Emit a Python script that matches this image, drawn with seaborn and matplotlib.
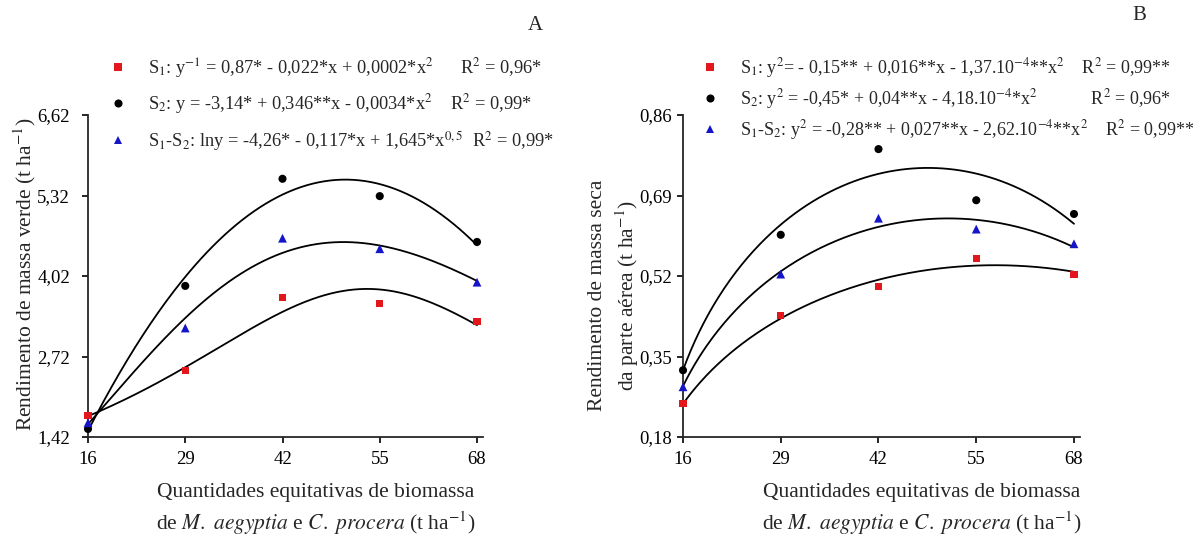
import numpy as np
import pandas as pd
import matplotlib
matplotlib.use("Agg")
import matplotlib.pyplot as plt
import seaborn as sns
from matplotlib.lines import Line2D

# ---------------- data ----------------
doses = [16, 29, 42, 55, 68]
xticks = [16, 29, 42, 55, 68]

a_s1 = [1.76, 2.49, 3.68, 3.58, 3.28]
a_s2 = [1.55, 3.86, 5.59, 5.31, 4.57]
a_s12 = [1.65, 3.18, 4.63, 4.46, 3.92]
a_yticks = [1.42, 2.72, 4.02, 5.32, 6.62]
a_yticklabels = ["1,42", "2,72", "4,02", "5,32", "6,62"]

b_s1 = [0.250, 0.436, 0.497, 0.556, 0.524]
b_s2 = [0.321, 0.607, 0.788, 0.680, 0.651]
b_s12 = [0.286, 0.524, 0.642, 0.619, 0.588]
b_yticks = [0.18, 0.35, 0.52, 0.69, 0.86]
b_yticklabels = ["0,18", "0,35", "0,52", "0,69", "0,86"]

series = ["S1", "S2", "S1-S2"]

a_labels = [
    r"S$_1$: y$^{\mathrm{-1}}$ = 0,87* - 0,022*x + 0,0002*x$^2$      R$^2$ = 0,96*",
    r"S$_2$: y = -3,14* + 0,346**x - 0,0034*x$^2$    R$^2$ = 0,99*",
    r"S$_1$-S$_2$: lny = -4,26* - 0,117*x + 1,645*x$^{0,5}$  R$^2$ = 0,99*",
]
b_labels = [
    r"S$_1$: y$^2$= - 0,15** + 0,016**x - 1,37.10$^{\mathrm{-4}}$**x$^2$    R$^2$ = 0,99**",
    r"S$_2$: y$^2$ = -0,45* + 0,04**x - 4,18.10$^{\mathrm{-4}}$*x$^2$            R$^2$ = 0,96*",
    r"S$_1$-S$_2$: y$^2$ = -0,28** + 0,027**x - 2,62.10$^{\mathrm{-4}}$**x$^2$    R$^2$ = 0,99**",
]
ylabel_a = r"Rendimento de massa verde (t ha$^{-1}$)"
ylabel_b = "Rendimento de massa seca\n" + r"da parte aérea (t ha$^{-1}$)"
xlabel = ("Quantidades equitativas de biomassa\n"
          r"de $\mathit{M.\ aegyptia}$ e $\mathit{C.\ procera}$ (t ha$^{-1}$)")

colors = {"S1": "#e3161c", "S2": "black", "S1-S2": "#1414c8"}
markers = {"S1": "s", "S2": "o", "S1-S2": "^"}
sizes = {"S1": 26, "S2": 34, "S1-S2": 40}

# ---------------- style ----------------
sns.set_style("ticks")
plt.rcParams["font.family"] = ["Liberation Serif", "DejaVu Serif"]
plt.rcParams["mathtext.fontset"] = "stix"
plt.rcParams["axes.linewidth"] = 1.3

fig = plt.figure(figsize=(11.99, 5.45), dpi=100)
W, H = 1199, 545


def ax_rect(l, r, t, b):
    return [l / W, 1 - b / H, (r - l) / W, (b - t) / H]


axA = fig.add_axes(ax_rect(88, 483, 115, 437))
axB = fig.add_axes(ax_rect(683, 1080, 115, 437))


def fit_curve(x, y, kind):
    x = np.asarray(x, float)
    y = np.asarray(y, float)
    xs = np.linspace(x.min(), x.max(), 200)
    if kind == "inv":
        c = np.polyfit(x, 1 / y, 2)
        return xs, 1 / np.polyval(c, xs)
    if kind == "quad":
        c = np.polyfit(x, y, 2)
        return xs, np.polyval(c, xs)
    if kind == "log":
        A = np.column_stack([np.ones_like(x), x, np.sqrt(x)])
        c, *_ = np.linalg.lstsq(A, np.log(y), rcond=None)
        return xs, np.exp(c[0] + c[1] * xs + c[2] * np.sqrt(xs))
    if kind == "sq":
        c = np.polyfit(x, y ** 2, 2)
        return xs, np.sqrt(np.polyval(c, xs))


def draw(ax, data, kinds, yticks, yticklabels, ylabel, ypad):
    for s, vals, kind in zip(series, data, kinds):
        xs, ys = fit_curve(doses, vals, kind)
        sns.lineplot(x=xs, y=ys, ax=ax, color="black", lw=1.3, legend=False)
    for s, vals in zip(series, data):
        df = pd.DataFrame({"x": doses, "y": vals})
        sns.scatterplot(data=df, x="x", y="y", ax=ax, color=colors[s],
                        marker=markers[s], s=sizes[s], edgecolor="none",
                        zorder=5, clip_on=False, legend=False)
    ax.set_xlim(16, 68.8)
    ax.set_ylim(yticks[0], yticks[-1])
    ax.set_xticks(xticks)
    ax.set_xticklabels([str(v) for v in xticks])
    ax.set_yticks(yticks)
    ax.set_yticklabels(yticklabels)
    ax.tick_params(axis="both", direction="out", length=4, width=1.2,
                   labelsize=13.5, colors="black")
    ax.tick_params(axis="x", pad=6)
    ax.tick_params(axis="y", pad=ypad)
    sns.despine(ax=ax)
    ax.set_xlabel(xlabel, fontsize=15.5, linespacing=1.35)
    ax.set_ylabel(ylabel, fontsize=15.5, linespacing=1.3)


draw(axA, [a_s1, a_s2, a_s12], ["inv", "quad", "log"], a_yticks,
     a_yticklabels, ylabel_a, 9)
draw(axB, [b_s1, b_s2, b_s12], ["sq", "sq", "sq"], b_yticks,
     b_yticklabels, ylabel_b, 4)

axA.xaxis.set_label_coords((316 - 88) / 395, (437 - 483) / 322)
axB.xaxis.set_label_coords((922 - 683) / 397, (437 - 483) / 322)
axA.yaxis.set_label_coords((38 - 88) / 395, 0.506)
axB.yaxis.set_label_coords((641 - 683) / 397, 0.44)


def legend(ax, labels, x0, y0, spacing, fs):
    handles = [Line2D([], [], ls="none", marker=markers[s], color=colors[s],
                      markersize=np.sqrt(sizes[s]), markeredgewidth=0)
               for s in series]
    leg = ax.legend(handles, labels, loc="upper left",
                    bbox_to_anchor=(x0 / W, 1 - y0 / H),
                    bbox_transform=fig.transFigure, frameon=False,
                    fontsize=fs, handlelength=1.0, handletextpad=1.15,
                    labelspacing=spacing, borderpad=0, borderaxespad=0)
    return leg


legend(axA, a_labels, 109, 56, 0.68, 13.2)
legend(axB, b_labels, 701, 56, 0.38, 13.0)

fig.text(535 / W, 1 - 26 / H, "A", fontsize=15, ha="center", va="center")
fig.text(1139 / W, 1 - 15 / H, "B", fontsize=15, ha="center", va="center")

fig.savefig("out.png", dpi=100)
